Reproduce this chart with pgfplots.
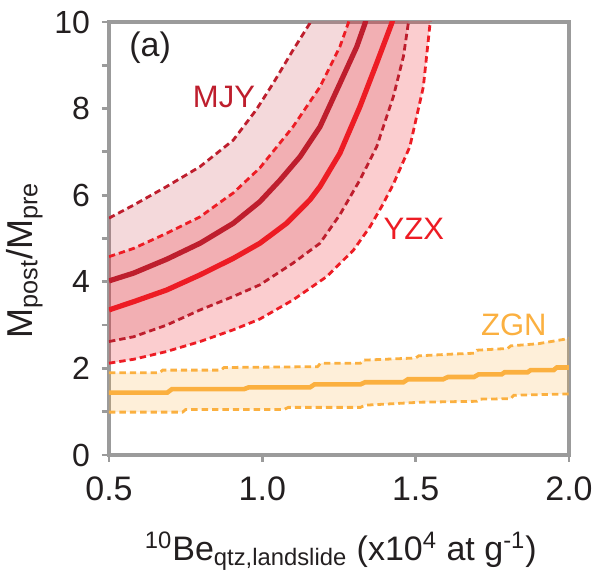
\documentclass[border=0pt]{standalone}
\usepackage{pgfplots}
\pgfplotsset{compat=1.18}
\usepgfplotslibrary{fillbetween}
\usepackage{fontspec}
\setmainfont{Liberation Sans}
\definecolor{mjy}{RGB}{190,30,45}
\definecolor{yzx}{RGB}{237,28,36}
\definecolor{zgn}{RGB}{251,176,64}
\definecolor{axgray}{RGB}{155,155,155}
\definecolor{txt}{RGB}{35,31,32}

\pgfplotstableread{
x y
0.5 4.02
0.58 4.20
0.688 4.52
0.797 4.89
0.905 5.35
0.992 5.85
1.058 6.35
1.123 6.89
1.188 7.58
1.253 8.58
1.308 9.43
1.335 9.97
1.35 10.4
}\mjymid
\pgfplotstableread{
x y
0.5 5.47
0.58 5.77
0.688 6.2
0.797 6.66
0.905 7.27
0.98 7.97
1.035 8.58
1.10 9.35
1.155 9.97
1.17 10.3
}\mjyup
\pgfplotstableread{
x y
0.5 2.62
0.58 2.73
0.688 3.0
0.797 3.35
0.905 3.66
0.992 3.93
1.10 4.43
1.188 4.89
1.253 5.55
1.318 6.35
1.373 7.12
1.427 8.27
1.46 9.2
1.476 9.97
1.49 10.4
}\mjylo
\pgfplotstableread{
x y
0.5 3.35
0.58 3.54
0.688 3.81
0.797 4.16
0.905 4.54
0.992 4.89
1.079 5.35
1.155 5.89
1.188 6.2
1.253 6.97
1.318 8.04
1.373 9.05
1.422 9.97
1.44 10.4
}\yzxmid
\pgfplotstableread{
x y
0.5 4.58
0.58 4.77
0.688 5.12
0.797 5.50
0.873 5.89
0.905 6.05
0.992 6.63
1.10 7.58
1.188 8.5
1.253 9.43
1.28 9.97
1.295 10.3
}\yzxup
\pgfplotstableread{
x y
0.5 2.12
0.58 2.21
0.688 2.39
0.797 2.62
0.905 2.89
0.992 3.14
1.10 3.58
1.21 4.12
1.297 4.73
1.351 5.27
1.39 5.75
1.427 6.25
1.481 7.12
1.525 8.5
1.547 9.97
1.555 10.4
}\yzxlo
\pgfplotstableread{
x y
0.5 1.44
0.69 1.44
0.705 1.52
0.94 1.52
0.955 1.56
1.155 1.56
1.17 1.63
1.32 1.63
1.335 1.68
1.46 1.68
1.475 1.75
1.59 1.75
1.605 1.80
1.69 1.80
1.705 1.86
1.78 1.86
1.79 1.91
1.865 1.91
1.875 1.96
1.95 1.96
1.96 2.02
2.0 2.02
}\zgnmid
\pgfplotstableread{
x y
0.5 1.90
0.665 1.90
0.675 1.96
0.865 1.96
0.875 2.02
1.18 2.04
1.19 2.12
1.32 2.12
1.33 2.19
1.50 2.24
1.51 2.29
1.62 2.33
1.69 2.35
1.70 2.42
1.80 2.46
1.81 2.52
1.90 2.57
2.0 2.69
}\zgnup
\pgfplotstableread{
x y
0.5 0.99
0.74 0.99
0.75 1.05
1.07 1.05
1.085 1.10
1.32 1.10
1.335 1.15
1.52 1.22
1.70 1.24
1.71 1.29
1.81 1.30
1.82 1.38
2.0 1.41
}\zgnlo

\begin{document}
\begin{tikzpicture}
\begin{axis}[name=ax, set layers,
  width=230pt, height=216.5pt, scale only axis,
  xmin=0.5, xmax=2, ymin=0, ymax=10,
  xtick={0.5,1,1.5,2}, xticklabels={0.5,1.0,1.5,2.0},
  ytick={0,1,...,10}, yticklabels={0,,2,,4,,6,,8,,10},
  tick pos=left, tick align=outside, major tick length=3.5pt,
  axis line style={draw=axgray, line width=1.6pt},
  major tick style={draw=axgray, line width=1.4pt},
  /pgf/number format/assume math mode=true,
  xticklabel style={font=\fontsize{17}{20}\selectfont, text=txt, yshift=-4pt},
  yticklabel style={font=\fontsize{16}{19}\selectfont, text=txt, xshift=-2.5pt},
  xlabel={\textsuperscript{10}Be\textsubscript{qtz,landslide} (x10\textsuperscript{4} at g\textsuperscript{-1})},
  ylabel={M\textsubscript{post}/M\textsubscript{pre}},
  xlabel style={font=\fontsize{17}{20}\selectfont, text=txt, at={(rel axis cs:0.504,-0.244)}, anchor=base},
  ylabel style={font=\fontsize{18}{21}\selectfont, text=txt, at={(rel axis cs:-0.167,0.449)}, anchor=base, rotate=0},
  dsh/.style={line width=1.4pt, dash pattern=on 3.2pt off 2pt},
]
% MJY
\addplot[mjy, dsh, name path=mjyU] table {\mjyup};
\addplot[mjy, dsh, name path=mjyL] table {\mjylo};
\addplot[mjy!80, fill opacity=0.21, draw=none] fill between[of=mjyU and mjyL];
% YZX
\addplot[yzx, dsh, name path=yzxU] table {\yzxup};
\addplot[yzx, dsh, name path=yzxL] table {\yzxlo};
\addplot[yzx, fill opacity=0.22, draw=none] fill between[of=yzxU and yzxL];
% ZGN
\addplot[zgn, dsh, name path=zgnU] table {\zgnup};
\addplot[zgn, dsh, name path=zgnL] table {\zgnlo};
\addplot[zgn, fill opacity=0.2, draw=none] fill between[of=zgnU and zgnL];
% central lines
\addplot[mjy, line width=2.6pt] table {\mjymid};
\addplot[yzx, line width=2.6pt] table {\yzxmid};
\addplot[zgn, line width=2.3pt] table {\zgnmid};
% labels
\node[text=txt, font=\fontsize{17}{20}\selectfont] at (axis cs:0.634,9.4) {(a)};
\node[text=mjy, font=\fontsize{15.5}{18}\selectfont] at (axis cs:0.875,8.26) {MJY};
\node[text=yzx, font=\fontsize{15.5}{18}\selectfont] at (axis cs:1.494,5.23) {YZX};
\node[text=zgn, font=\fontsize{15.5}{18}\selectfont] at (axis cs:1.82,3.0) {ZGN};
\end{axis}
\pgfresetboundingbox
\path ([xshift=-54.5pt,yshift=-58pt]ax.south west) rectangle ([xshift=13.5pt,yshift=11pt]ax.north east);
\end{tikzpicture}
\end{document}
